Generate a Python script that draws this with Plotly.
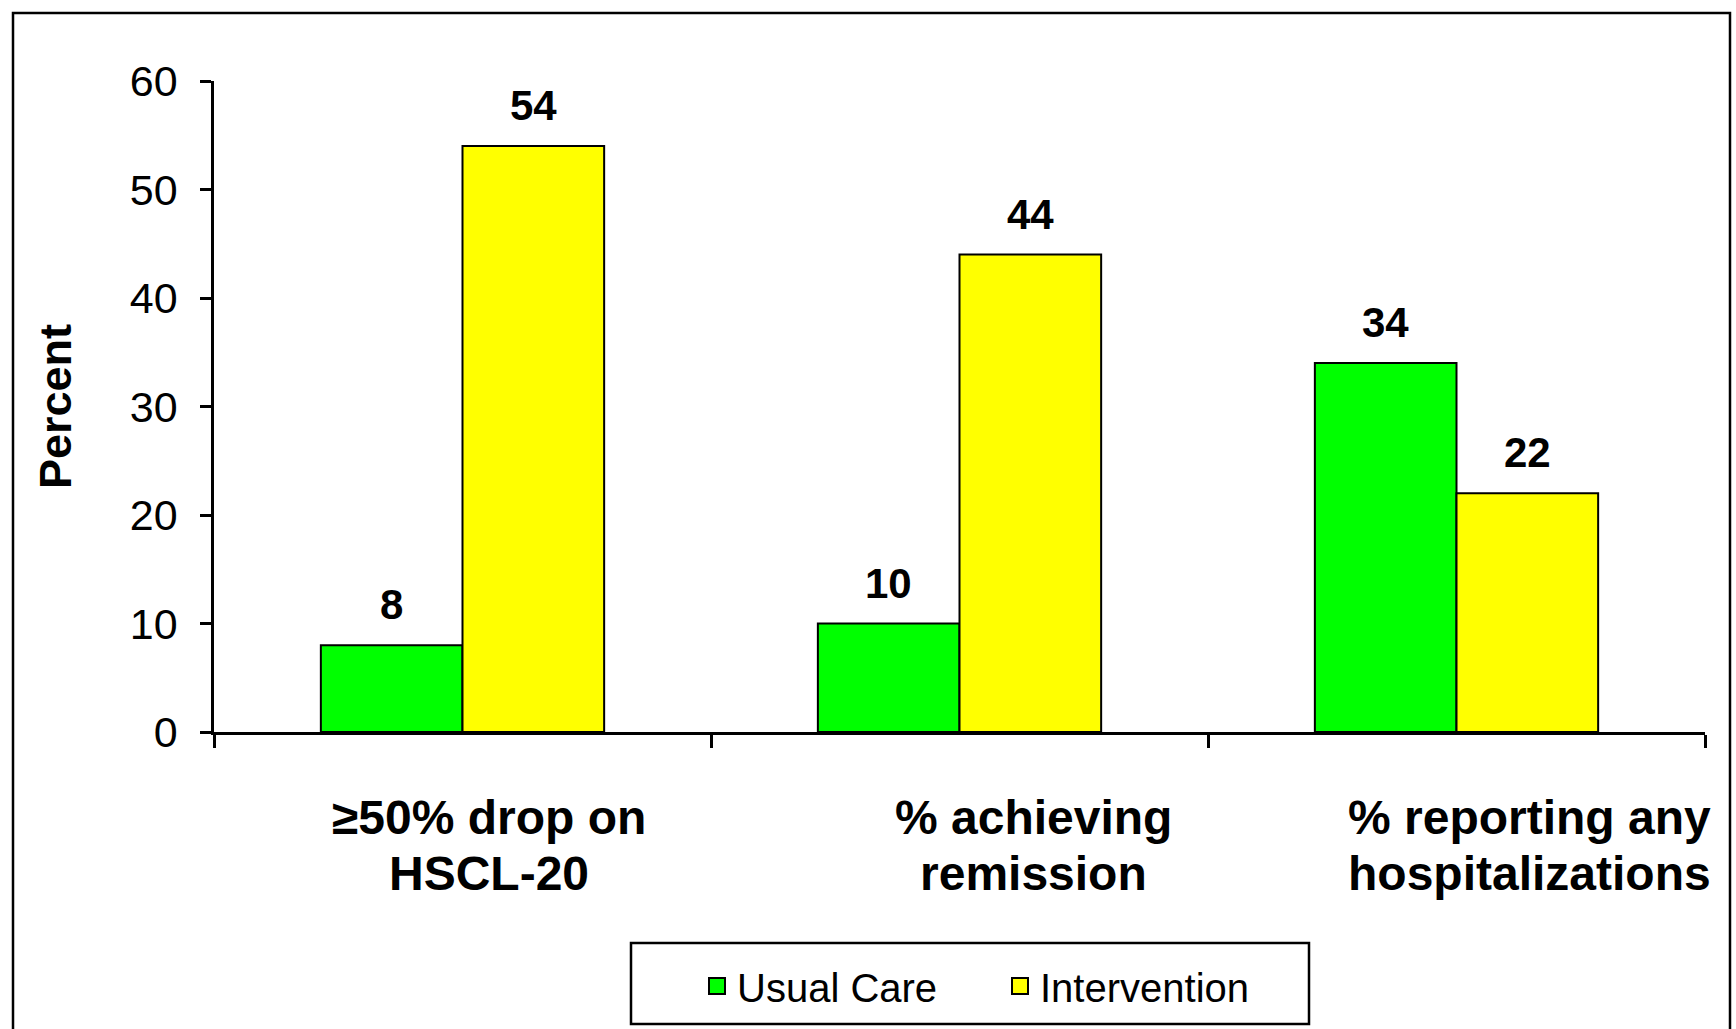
import plotly.graph_objects as go

categories = ["≥50% drop on<br>HSCL-20", "% achieving<br>remission", "% reporting any<br>hospitalizations"]
series_names = ["Usual Care", "Intervention"]
usual_care = [8, 10, 34]
intervention = [54, 44, 22]
y_ticks = [0, 10, 20, 30, 40, 50, 60]

colors = ["#00FF00", "#FFFF00"]
FONT = "Arial, 'Liberation Sans', sans-serif"

W, H = 1736, 1029
ML, MR, MT, MB = 214, 31, 81, 297
PW = W - ML - MR
PH = H - MT - MB

def px_x(x):
    return (x - ML) / PW

def px_y(y):
    return (H - MB - y) / PH

fig = go.Figure()
series = [usual_care, intervention]
for name, vals, col in zip(series_names, series, colors):
    fig.add_trace(go.Bar(
        x=categories, y=vals, name=name, showlegend=False,
        marker=dict(color=col, line=dict(color="black", width=2)),
    ))
    fig.add_trace(go.Scatter(
        x=[None], y=[None], mode="markers", name=name,
        marker=dict(symbol="square", size=22, color=col, line=dict(color="black", width=2)),
    ))

annotations = []
# value labels
half_bar = 71
for k, vals in enumerate(series):
    shift = -half_bar if k == 0 else half_bar
    for c, v in zip(categories, vals):
        annotations.append(dict(
            x=c, y=v, xref="x", yref="y", text=f"<b>{v}</b>", showarrow=False,
            xshift=shift, yshift=15, yanchor="bottom",
            font=dict(family=FONT, size=42, color="black"),
        ))
# category labels (one annotation per text line for tighter line spacing)
label_shift = [26, 74, 73]
for c, s in zip(categories, label_shift):
    for i, line in enumerate(c.split("<br>")):
        annotations.append(dict(
            x=c, y=px_y(817 + i * 56.5), xref="x", yref="paper", text=f"<b>{line}</b>",
            showarrow=False, xshift=s, yanchor="middle", xanchor="center",
            font=dict(family=FONT, size=48, color="black"),
        ))

shapes = [
    dict(type="rect", xref="paper", yref="paper",
         x0=px_x(13), x1=px_x(1730), y0=px_y(1045), y1=px_y(13),
         line=dict(color="black", width=2.5), fillcolor="rgba(0,0,0,0)"),
    dict(type="rect", xref="paper", yref="paper",
         x0=px_x(631), x1=px_x(1309), y0=px_y(1024), y1=px_y(943),
         line=dict(color="black", width=2.5), fillcolor="rgba(0,0,0,0)"),
]

fig.update_layout(
    width=W, height=H,
    margin=dict(l=ML, r=MR, t=MT, b=MB, pad=0, autoexpand=False),
    paper_bgcolor="white", plot_bgcolor="white",
    barmode="group", bargap=0.43, bargroupgap=0,
    font=dict(family=FONT, color="black"),
    annotations=annotations,
    shapes=shapes,
    legend=dict(
        orientation="h", x=px_x(697), xanchor="left", y=px_y(986), yanchor="middle",
        font=dict(family=FONT, size=40, color="black"),
        bgcolor="rgba(0,0,0,0)", borderwidth=0,
        entrywidth=258, entrywidthmode="pixels",
    ),
    xaxis=dict(
        range=[-0.5, len(categories) - 0.5],
        showticklabels=False, tickson="boundaries", ticks="outside", ticklen=13,
        tickwidth=2.5, tickcolor="black", showline=True, linecolor="black", linewidth=2.5,
        showgrid=False, zeroline=False, automargin=False,
    ),
    yaxis=dict(
        range=[0, 60], tickvals=y_ticks, ticks="outside", ticklen=11, tickwidth=2.5,
        tickcolor="black", showline=True, linecolor="black", linewidth=2.5,
        showgrid=False, zeroline=False, ticklabelstandoff=14, automargin=False,
        tickfont=dict(family=FONT, size=43, color="black"),
        title=dict(text="<b>Percent</b>", standoff=45, font=dict(family=FONT, size=45, color="black")),
    ),
)

fig.write_html("out.html")
